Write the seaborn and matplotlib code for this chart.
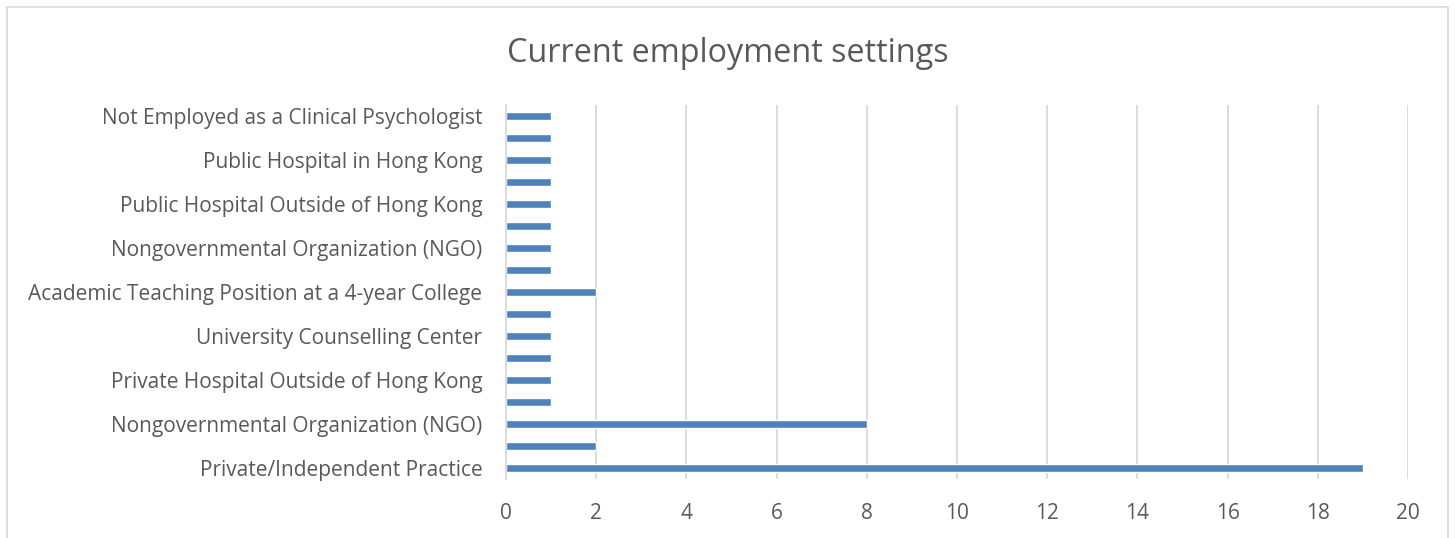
import matplotlib
matplotlib.use("Agg")
import matplotlib.pyplot as plt
import seaborn as sns
import pandas as pd
from matplotlib.patches import Rectangle

# Employment settings, listed bottom to top; every other row carries a visible label
settings = [
    "Private/Independent Practice",
    "",
    "Nongovernmental Organization (NGO)",
    "",
    "Private Hospital Outside of Hong Kong",
    "",
    "University Counselling Center",
    "",
    "Academic Teaching Position at a 4-year College",
    "",
    "Nongovernmental Organization (NGO)",
    "",
    "Public Hospital Outside of Hong Kong",
    "",
    "Public Hospital in Hong Kong",
    "",
    "Not Employed as a Clinical Psychologist",
]
counts = [19, 2, 8, 1, 1, 1, 1, 1, 2, 1, 1, 1, 1, 1, 1, 1, 1]
x_ticks = [0, 2, 4, 6, 8, 10, 12, 14, 16, 18, 20]

sns.set_theme(style="white")
plt.rcParams["font.family"] = ["Open Sans", "DejaVu Sans"]

text_color = "#595959"
grid_color = "#d9d9d9"
bar_color = "#4f81bd"

df = pd.DataFrame({"row": list(range(len(counts))), "count": counts})

fig = plt.figure(figsize=(14.55, 5.38), dpi=100)
ax = fig.add_axes([0.3478, 0.1097, 0.6199, 0.6953])

sns.barplot(data=df, x="count", y="row", orient="h", native_scale=True,
            color=bar_color, width=0.38, saturation=1, ax=ax, zorder=3)

ax.set_xlim(0, 20)
ax.set_ylim(-0.5, len(counts) - 0.5)
ax.set_xticks(x_ticks)
ax.set_xticklabels([str(t) for t in x_ticks], color=text_color, fontsize=15)
ax.set_yticks(list(range(len(counts))))
ax.set_yticklabels(settings, color=text_color, fontsize=15)
ax.tick_params(axis="y", length=0, pad=17)
ax.tick_params(axis="x", length=0, pad=17)
ax.set_xlabel("")
ax.set_ylabel("")

ax.grid(axis="x", color=grid_color, linewidth=1.3, zorder=0)
ax.grid(axis="y", visible=False)
for side in ["top", "right", "bottom"]:
    ax.spines[side].set_visible(False)
ax.spines["left"].set_color(grid_color)
ax.spines["left"].set_linewidth(1.3)
ax.spines["left"].set_zorder(4)

fig.text(0.5, 0.900, "Current employment settings", ha="center", va="center",
         fontsize=23.3, color=text_color)

# light outline around the chart area
fig.patches.append(Rectangle((7 / 1455, -0.1), 1441 / 1455, 1 - 7 / 538 + 0.1,
                             transform=fig.transFigure, fill=False,
                             edgecolor=grid_color, linewidth=1.2))

fig.savefig("out.png", dpi=100)
